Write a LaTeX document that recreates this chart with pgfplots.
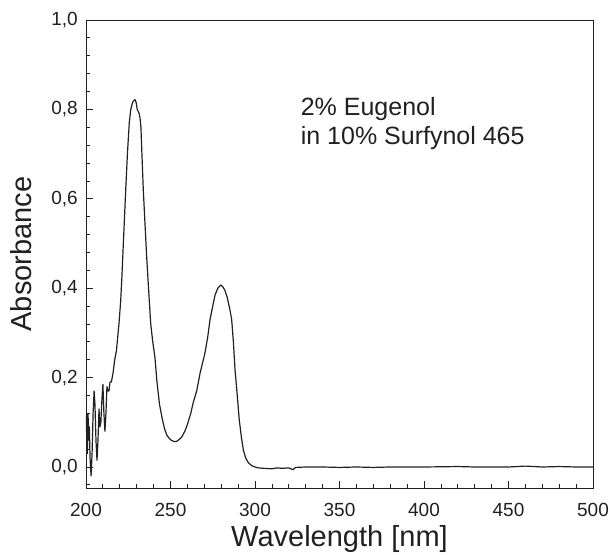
\documentclass[border=0pt]{standalone}
\usepackage{fontspec}
\setmainfont{Liberation Sans}
\usepackage{pgfplots}
\pgfplotsset{compat=1.18}
\usetikzlibrary{calc}
\definecolor{ink}{HTML}{231F20}
\begin{document}
\begin{tikzpicture}
\begin{axis}[
  scale only axis,
  width=507pt, height=468pt,
  xmin=200, xmax=500, ymin=-0.047, ymax=1.0,
  xtick={200,250,300,350,400,450,500},
  ytick={0,0.2,0.4,0.6,0.8,1},
  minor xtick={210,220,230,240,260,270,280,290,310,320,330,340,360,370,380,390,410,420,430,440,460,470,480,490},
  minor ytick={-0.04,0.04,0.08,0.12,0.16,0.24,0.28,0.32,0.36,0.44,0.48,0.52,0.56,0.64,0.68,0.72,0.76,0.84,0.88,0.92,0.96},
  tick align=inside, tick pos=left,
  major tick length=7pt, minor tick length=4pt,
  axis line style={ink, line width=0.9pt},
  tick style={ink, line width=0.8pt},
  /pgf/number format/assume math mode=true,
  yticklabel style={/pgf/number format/.cd, fixed, fixed zerofill, precision=1, use comma,
    /tikz/.cd, inner sep=0pt, xshift=-8pt},
  xticklabel style={/pgf/number format/.cd, 1000 sep={}, /tikz/.cd, inner sep=0pt, yshift=-15pt},
  tick label style={font=\fontsize{19}{21}\selectfont, text=ink},
  label style={font=\fontsize{29}{33}\selectfont, text=ink, inner sep=0pt},
  xlabel={Wavelength [nm]},
  ylabel={Absorbance},
  xlabel style={at={(axis description cs:0.5,-0.139)}, anchor=south},
  ylabel style={at={(axis description cs:-0.150,0.5)}, anchor=north, rotate=0},
]
\addplot[ink, line width=1.2pt, line join=round] coordinates {
(200.0,0.08) (200.4,0.12) (200.8,0.03) (201.2,0.12) (201.6,0.06) (202.0,0.09)
(202.4,0.02) (203.0,-0.02) (203.6,0.03) (204.2,0.12) (204.8,0.17) (205.3,0.14)
(205.9,0.06) (206.5,0.015) (207.1,0.06) (207.7,0.13) (208.2,0.09) (208.8,0.10)
(209.4,0.15) (210.0,0.185) (210.6,0.12) (211.2,0.08) (211.8,0.12) (212.4,0.18)
(213.0,0.17) (213.6,0.17) (214.2,0.19) (215.0,0.19) (216.0,0.21) (217.0,0.24)
(218.0,0.26) (218.5,0.28) (219.5,0.32) (220.5,0.37) (221.3,0.43) (222.1,0.50)
(222.8,0.56) (223.5,0.62) (224.5,0.70) (225.6,0.77) (226.5,0.80) (227.5,0.815)
(228.3,0.82) (229.0,0.822) (229.7,0.815) (230.3,0.80) (231.0,0.795) (231.5,0.79)
(232.0,0.78) (232.5,0.76) (233.2,0.69) (233.9,0.62) (234.9,0.545) (235.9,0.47)
(237.0,0.40) (238.3,0.32) (239.5,0.28) (240.8,0.245) (242.0,0.19) (243.5,0.14)
(245.0,0.11) (246.5,0.085) (248.0,0.07) (250.0,0.061) (252.0,0.057) (253.5,0.057)
(255.0,0.061) (256.6,0.067) (258.5,0.08) (260.0,0.095) (262.0,0.12) (263.5,0.145)
(265.5,0.17) (267.5,0.21) (270.4,0.255) (272.0,0.29) (273.4,0.33) (275.0,0.36)
(276.3,0.384) (278.0,0.40) (279.7,0.407) (281.0,0.403) (282.2,0.395) (283.5,0.38)
(285.0,0.355) (286.2,0.33) (287.2,0.28) (288.2,0.217) (289.5,0.16) (290.7,0.105)
(292.0,0.065) (293.1,0.038) (294.5,0.02) (296.0,0.01) (298.0,0.003) (300.0,0.0)
(302,-0.002) (305,-0.003) (310,-0.004) (313,-0.002) (316,-0.003) (320,-0.002)
(322.5,-0.006) (324,-0.001) (330,0.0) (340,0.0) (350,-0.001) (360,0.0)
(370,-0.001) (380,0.0) (400,0.0) (420,0.001) (430,0.0) (450,0.0)
(460,0.002) (470,0.0) (480,0.001) (490,0.0) (500,0.0)
};
\node[anchor=north west, inner sep=0pt, align=left, text=ink,
  font=\fontsize{25}{29}\selectfont] at (axis cs:327,0.828)
  {2\% Eugenol\\in 10\% Surfynol 465};
\coordinate (ll) at (rel axis cs:0,0);
\coordinate (ur) at (rel axis cs:1,1);
\end{axis}
\pgfresetboundingbox
\path ($(ll)+(-86pt,-66pt)$) rectangle ($(ur)+(17pt,20pt)$);
\end{tikzpicture}
\end{document}
